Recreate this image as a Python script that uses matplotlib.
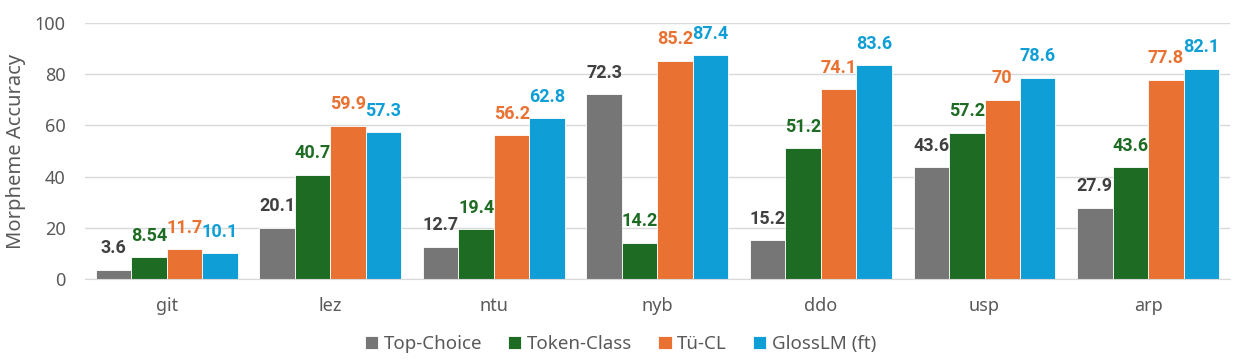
import matplotlib.pyplot as plt
import numpy as np

plt.rcParams['font.family'] = ['Noto Sans', 'DejaVu Sans']

languages = ['git', 'lez', 'ntu', 'nyb', 'ddo', 'usp', 'arp']
top_choice = [3.6, 20.1, 12.7, 72.3, 15.2, 43.6, 27.9]
token_class = [8.54, 40.7, 19.4, 14.2, 51.2, 57.2, 43.6]
tu_cl = [11.7, 59.9, 56.2, 85.2, 74.1, 70, 77.8]
glosslm = [10.1, 57.3, 62.8, 87.4, 83.6, 78.6, 82.1]

series = [
    ('Top-Choice', top_choice, '#767676', '#404040'),
    ('Token-Class', token_class, '#1E6B24', '#1E6B24'),
    ('Tü-CL', tu_cl, '#E97132', '#E97132'),
    ('GlossLM (ft)', glosslm, '#0F9ED5', '#0F9ED5'),
]


def plot_chart():
    fig = plt.figure(figsize=(12.41, 3.61), dpi=100)
    ax = fig.add_axes([0.0685, 0.227, 0.9225, 0.709])

    x = np.arange(len(languages))
    width = 0.217

    # one bar group per language
    for i, (name, vals, color, label_color) in enumerate(series):
        offset = (i - 1.5) * width
        bars = ax.bar(x + offset, vals, width, color=color, label=name,
                      edgecolor='white', linewidth=0.6, zorder=2)
        ax.bar_label(bars, labels=[f'{v:g}' for v in vals], padding=9,
                     fontsize=13, fontweight='bold', color=label_color,
                     family=['Roboto', 'DejaVu Sans'])

    ax.set_xlim(-0.5, len(languages) - 0.5)
    ax.set_ylim(0, 100)
    ax.set_yticks(range(0, 101, 20))
    ax.set_xticks(x)
    ax.set_xticklabels(languages)
    ax.tick_params(axis='both', length=0, labelsize=13, colors='#595959')
    ax.tick_params(axis='x', pad=13)
    ax.tick_params(axis='y', pad=14)
    ax.grid(axis='y', color='#D9D9D9', linewidth=1, zorder=0)
    for s in ['top', 'right', 'left']:
        ax.spines[s].set_visible(False)
    ax.spines['bottom'].set_color('#D9D9D9')
    ax.set_ylabel('Morpheme Accuracy', fontsize=14.5, color='#595959', labelpad=6)

    fig.legend(loc='lower center', bbox_to_anchor=(0.5, -0.025), ncol=4,
               frameon=False, fontsize=13.5, handlelength=0.7, handleheight=0.7,
               handletextpad=0.3, columnspacing=1.4, labelcolor='#595959')

    fig.savefig('out.png', dpi=100)


if __name__ == "__main__":
    plot_chart()
